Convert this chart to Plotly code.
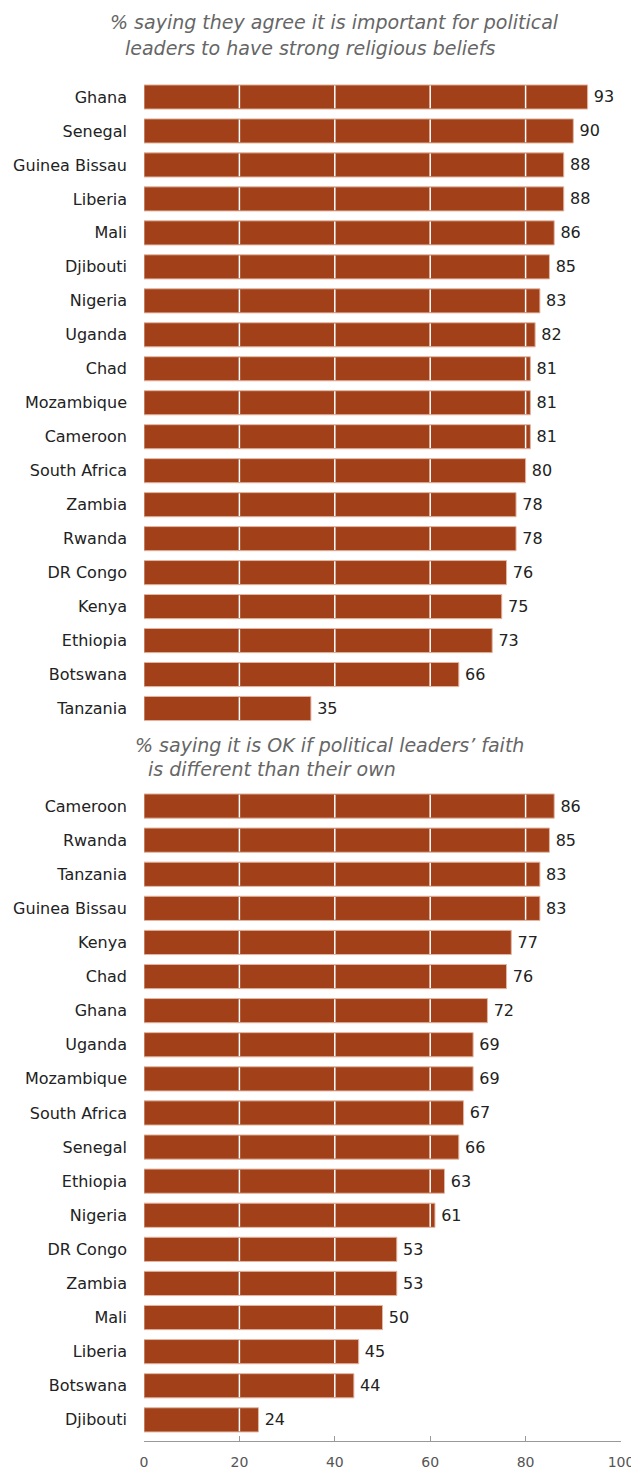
import plotly.graph_objects as go

top_countries = ["Ghana", "Senegal", "Guinea Bissau", "Liberia", "Mali", "Djibouti", "Nigeria",
                 "Uganda", "Chad", "Mozambique", "Cameroon", "South Africa", "Zambia", "Rwanda",
                 "DR Congo", "Kenya", "Ethiopia", "Botswana", "Tanzania"]
top_values = [93, 90, 88, 88, 86, 85, 83, 82, 81, 81, 81, 80, 78, 78, 76, 75, 73, 66, 35]

bottom_countries = ["Cameroon", "Rwanda", "Tanzania", "Guinea Bissau", "Kenya", "Chad", "Ghana",
                    "Uganda", "Mozambique", "South Africa", "Senegal", "Ethiopia", "Nigeria",
                    "DR Congo", "Zambia", "Mali", "Liberia", "Botswana", "Djibouti"]
bottom_values = [86, 85, 83, 83, 77, 76, 72, 69, 69, 67, 66, 63, 61, 53, 53, 50, 45, 44, 24]

x_ticks = [0, 20, 40, 60, 80, 100]
grid_values = [20, 40, 60, 80]

top_title = ["% saying they agree it is important for political",
             "leaders to have strong religious beliefs"]
bottom_title = ["% saying it is OK if political leaders\u2019 faith",
                "is different than their own"]

BAR = "#A14019"
EDGE = "#E3B6A1"
FONT = "DejaVu Sans"
BARGAP = 0.29

# page body has an 8px margin; work in page pixels and subtract it
OFF = 8
W, HT = 639 - OFF, 1470 - OFF

fig = go.Figure()
fig.add_trace(go.Bar(
    y=top_countries, x=top_values, orientation="h", xaxis="x", yaxis="y",
    marker=dict(color=BAR, line=dict(color=EDGE, width=1)),
    text=["\u2009" + str(v) for v in top_values], textposition="outside",
    textfont=dict(family=FONT, size=16, color="#222"), cliponaxis=False,
    hoverinfo="skip", showlegend=False))
fig.add_trace(go.Bar(
    y=bottom_countries, x=bottom_values, orientation="h", xaxis="x2", yaxis="y2",
    marker=dict(color=BAR, line=dict(color=EDGE, width=1)),
    text=["\u2009" + str(v) for v in bottom_values], textposition="outside",
    textfont=dict(family=FONT, size=16, color="#222"), cliponaxis=False,
    hoverinfo="skip", showlegend=False))

L, R = 144 - OFF, 621 - OFF
BOTTOM = 1441 - OFF  # axis line position
H = float(BOTTOM)
n = len(top_countries)
half = (1 - BARGAP) / 2 - 0.02

# white gridlines drawn only across the bars
shapes = []
for vals, xr, yr in ((top_values, "x", "y"), (bottom_values, "x2", "y2")):
    for i, v in enumerate(vals):
        for g in grid_values:
            if v > g:
                shapes.append(dict(type="line", xref=xr, yref=yr, x0=g, x1=g,
                                   y0=i - half, y1=i + half,
                                   line=dict(color="white", width=1.5), layer="above"))

annotations = []
def px_x(p):
    return (p - OFF - L) / float(R - L)

def px_y(p):
    return 1 - (p - OFF) / H

for txt, xp, yp in ((top_title[0], 108, 22), (top_title[1], 123, 48),
                    (bottom_title[0], 133, 745), (bottom_title[1], 146, 769)):
    annotations.append(dict(text="<i>" + txt + "</i>", xref="paper", yref="paper",
                            x=px_x(xp), y=px_y(yp), xanchor="left", yanchor="middle",
                            showarrow=False, font=dict(family=FONT, size=19, color="#666")))

fig.update_layout(
    width=W, height=HT,
    margin=dict(l=L, r=W - R, t=0, b=HT - BOTTOM, autoexpand=False),
    paper_bgcolor="white", plot_bgcolor="white",
    bargap=BARGAP,
    font=dict(family=FONT, color="#222"),
    xaxis=dict(domain=[0, 1], anchor="y", range=[0, 100], showgrid=False, zeroline=False,
               showticklabels=False, showline=False, fixedrange=True, automargin=False),
    yaxis=dict(domain=[px_y(725.5), px_y(80)], anchor="x", type="category",
               categoryorder="array", categoryarray=top_countries, automargin=False,
               range=[n - 0.5, -0.5], showgrid=False, zeroline=False, ticks="",
               ticklabelstandoff=16, tickfont=dict(family=FONT, size=16, color="#222")),
    xaxis2=dict(domain=[0, 1], anchor="y2", range=[0, 100], tickvals=x_ticks, automargin=False,
                showgrid=False, zeroline=False, showline=True, linecolor="#999", linewidth=1,
                ticks="inside", ticklen=5, tickcolor="#999", ticklabelstandoff=8,
                tickfont=dict(family=FONT, size=14, color="#555")),
    yaxis2=dict(domain=[0, px_y(789)], anchor="x2", type="category",
                categoryorder="array", categoryarray=bottom_countries, automargin=False,
                range=[n - 1 + 0.62, -0.5], showgrid=False, zeroline=False, ticks="",
                ticklabelstandoff=16, tickfont=dict(family=FONT, size=16, color="#222")),
    shapes=shapes, annotations=annotations,
)

fig.write_html("out.html")
